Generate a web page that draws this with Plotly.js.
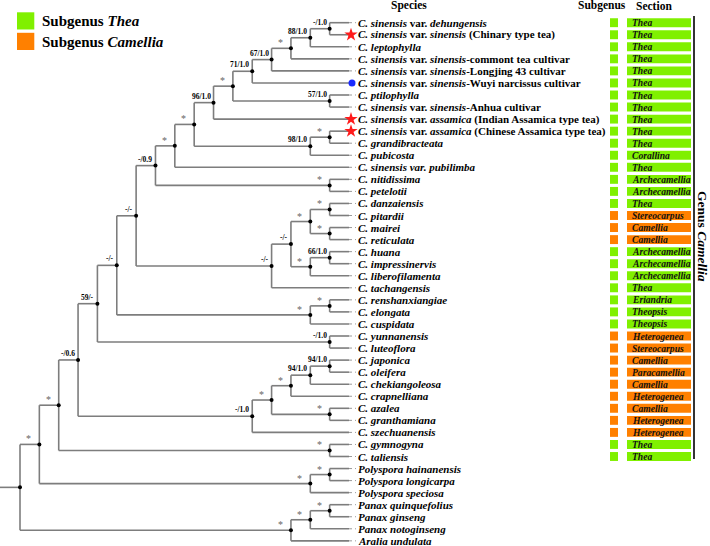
<!DOCTYPE html>
<html><head><meta charset="utf-8">
<script src="https://cdn.plot.ly/plotly-3.0.1.min.js"></script>
<style>html,body{margin:0;padding:0;background:#fff}#chart{width:710px;height:546px}</style>
</head><body><div id="chart"></div>
<script>
// ---------- DATA ----------
const leafNames = [
 '<i>C. sinensis</i> var. <i>dehungensis</i>',
 '<i>C. sinensis</i> var. <i>sinensis</i> (Chinary type tea)',
 '<i>C. leptophylla</i>',
 '<i>C. sinensis</i> var. <i>sinensis</i>-commont tea cultivar',
 '<i>C. sinensis</i> var. <i>sinensis</i>-Longjing 43 cultivar',
 '<i>C. sinensis</i> var. <i>sinensis</i>-Wuyi narcissus cultivar',
 '<i>C. ptilophylla</i>',
 '<i>C. sinensis</i> var. <i>sinensis</i>-Anhua cultivar',
 '<i>C. sinensis</i> var. <i>assamica</i> (Indian Assamica type tea)',
 '<i>C. sinensis</i> var. <i>assamica</i> (Chinese Assamica type tea)',
 '<i>C. grandibracteata</i>',
 '<i>C. pubicosta</i>',
 '<i>C. sinensis var. pubilimba</i>',
 '<i>C. nitidissima</i>',
 '<i>C. petelotii</i>',
 '<i>C. danzaiensis</i>',
 '<i>C. pitardii</i>',
 '<i>C. mairei</i>',
 '<i>C. reticulata</i>',
 '<i>C. huana</i>',
 '<i>C. impressinervis</i>',
 '<i>C. liberofilamenta</i>',
 '<i>C. tachangensis</i>',
 '<i>C. renshanxiangiae</i>',
 '<i>C. elongata</i>',
 '<i>C. cuspidata</i>',
 '<i>C. yunnanensis</i>',
 '<i>C. luteoflora</i>',
 '<i>C. japonica</i>',
 '<i>C. oleifera</i>',
 '<i>C. chekiangoleosa</i>',
 '<i>C. crapnelliana</i>',
 '<i>C. azalea</i>',
 '<i>C. granthamiana</i>',
 '<i>C. szechuanensis</i>',
 '<i>C. gymnogyna</i>',
 '<i>C. taliensis</i>',
 '<i>Polyspora hainanensis</i>',
 '<i>Polyspora longicarpa</i>',
 '<i>Polyspora speciosa</i>',
 '<i>Panax quinquefolius</i>',
 '<i>Panax ginseng</i>',
 '<i>Panax notoginseng</i>',
 '<i>Aralia undulata</i>'
];
const starLeaves = [1, 8, 9];
const dotLeaves = [5];
const subgenus = ['T','T','T','T','T','T','T','T','T','T','T','T','T','T','T','T',
  'C','C','C','T','T','T','T','T','T','T','C','C','C','C','C','C','C','C','C','T','T'];
const sections = ['Thea','Thea','Thea','Thea','Thea','Thea','Thea','Thea','Thea','Thea','Thea',
  'Corallina','Thea','Archecamellia','Archecamellia','Thea','Stereocarpus','Camellia','Camellia',
  'Archecamellia','Archecamellia','Archecamellia','Thea','Eriandria','Theopsis','Theopsis',
  'Heterogenea','Stereocarpus','Camellia','Paracamellia','Camellia','Heterogenea','Camellia',
  'Heterogenea','Heterogenea','Thea','Thea'];
// internal nodes: children (L# = leaf, N# = internal node) and support value
const nodeA = ['L0','N0','N1','N2','N3','L6','N4','N6','L9','N8','N7','N10','L13','N11','L15','L17','N14','L19','N17','N16','N19','N13','L23','N22','N21','L26','N24','L28','N27','N28','L32','N29','N31','N26','L35','N33','L37','N36','N35','L40','N39','N40','N38'];
const nodeB = ['L1','L2','L3','L4','L5','L7','N5','L8','L10','L11','N9','L12','L14','N12','L16','L18','N15','L20','L21','N18','L22','N20','L24','L25','N23','L27','N25','L29','L30','L31','L33','N30','L34','N32','L36','N34','L38','L39','N37','L41','L42','L43','N41'];
const nodeSupport = ['-/1.0','88/1.0','*','67/1.0','71/1.0','57/1.0','*','96/1.0','*','98/1.0','*','*','*','-/0.9','*','*','*','66/1.0','*','-/-','-/-','-/-','*','*','-/-','-/1.0','59/-','94/1.0','94/1.0','*','*','*','-/1.0','-/0.6','*','*','*','*','*','*','*','*',''];

// ---------- LAYOUT CONSTANTS ----------
const W = 710, H = 546;
const px0 = 20, dxPx = 19.353;        // level 0 pixel, pixels per level
const py0 = 22.7, dyPx = 12.05;       // first leaf pixel, pixels per leaf
const GREEN = '#80f000', ORANGE = '#ff8000';
const FONT = 'Liberation Serif, Times New Roman, serif';

// ---------- TREE GEOMETRY ----------
const nN = nodeA.length;
const hCache = {};
function height(ref){
  if (ref[0]==='L') return 0;
  if (hCache[ref]!==undefined) return hCache[ref];
  const i = +ref.slice(1);
  return hCache[ref] = 1 + Math.max(height(nodeA[i]), height(nodeB[i]));
}
const rootRef = 'N'+(nN-1);
const Htree = height(rootRef);
function X(ref){ return Htree - height(ref); }
const yCache = {};
function Y(ref){
  if (ref[0]==='L') return +ref.slice(1);
  if (yCache[ref]!==undefined) return yCache[ref];
  const i = +ref.slice(1);
  return yCache[ref] = (Y(nodeA[i]) + Y(nodeB[i]))/2;
}

const lx = [], ly = [];
for (let i=0;i<nN;i++){
  const r = 'N'+i, x = X(r);
  const a = nodeA[i], b = nodeB[i];
  lx.push(x, x, null); ly.push(Y(a), Y(b), null);
  lx.push(x, X(a), null); ly.push(Y(a), Y(a), null);
  lx.push(x, X(b), null); ly.push(Y(b), Y(b), null);
}
// root stub
const xMin = -px0/dxPx;
lx.push(xMin, 0, null); ly.push(Y(rootRef), Y(rootRef), null);

const nodeX = [], nodeY = [];
for (let i=0;i<nN;i++){ nodeX.push(X('N'+i)); nodeY.push(Y('N'+i)); }

// dotted tip extensions
const tx = [], ty = [];
const tipExt = 7/dxPx;
leafNames.forEach((n,i)=>{
  if (starLeaves.includes(i) || dotLeaves.includes(i)) return;
  tx.push(Htree, Htree+tipExt, null); ty.push(i, i, null);
});

const traces = [
  {x: lx, y: ly, mode:'lines', line:{color:'#7d7d7d', width:1.6}, hoverinfo:'skip', showlegend:false},
  {x: tx, y: ty, mode:'lines', line:{color:'#9a9a9a', width:1, dash:'dot'}, hoverinfo:'skip', showlegend:false},
  {x: nodeX, y: nodeY, mode:'markers', marker:{color:'#000', size:4}, hoverinfo:'skip', showlegend:false},
  {x: starLeaves.map(()=>Htree+2/dxPx), y: starLeaves, mode:'markers',
   marker:{symbol:'star', color:'#ff1a1a', size:10, line:{width:0}}, hoverinfo:'skip', showlegend:false},
  {x: dotLeaves.map(()=>Htree+3/dxPx), y: dotLeaves, mode:'markers',
   marker:{symbol:'circle', color:'#1a2aff', size:7}, hoverinfo:'skip', showlegend:false}
];

// ---------- ANNOTATIONS ----------
const ann = [];
leafNames.forEach((n,i)=>{
  ann.push({x: Htree, y: i, xref:'x', yref:'y', text:'<b>'+n+'</b>', showarrow:false,
    xanchor:'left', yanchor:'middle', xshift:7, yshift:0,
    font:{family:FONT, size:11, color:'#000'}});
});
nodeSupport.forEach((s,i)=>{
  if (!s) return;
  const star = s==='*';
  ann.push({x: nodeX[i], y: nodeY[i], xref:'x', yref:'y', text: star? s : '<b>'+s+'</b>',
    showarrow:false, xanchor:'right', yanchor:'bottom',
    xshift: star? -6 : -1, yshift: star? -2 : 0,
    font:{family:FONT, size: star? 10 : 7.5, color: star? '#666' : '#000'}});
});
// headers
const hdr = [['Species',409],['Subgenus',602],['Section',654]];
hdr.forEach(h=>ann.push({x:h[1]/W, y:1-6/H, xref:'paper', yref:'paper', text:'<b>'+h[0]+'</b>',
  showarrow:false, xanchor:'center', yanchor:'middle', font:{family:FONT, size:11.5, color:'#000'}}));

// section labels and boxes
const shapes = [];
const bh = 0.37;
sections.forEach((s,i)=>{
  const col = subgenus[i]==='T' ? GREEN : ORANGE;
  shapes.push({type:'rect', xref:'paper', yref:'y', x0:610/W, x1:618/W, y0:i-bh, y1:i+bh,
    fillcolor:col, line:{width:0}, layer:'below'});
  shapes.push({type:'rect', xref:'paper', yref:'y', x0:627/W, x1:691/W, y0:i-bh, y1:i+bh,
    fillcolor:col, line:{width:0}, layer:'below'});
  ann.push({x:630/W, y:i, xref:'paper', yref:'y', text:'<b><i>'+s+'</i></b>', showarrow:false,
    xanchor:'left', yanchor:'middle', font:{family:FONT, size:9.6, color:'#111'}});
});
// genus bar
shapes.push({type:'line', xref:'paper', yref:'paper', x0:694/W, x1:694/W, y0:1-16/H, y1:1-459/H,
  line:{color:'#000', width:1.6}});
ann.push({x:703/W, y:1-236/H, xref:'paper', yref:'paper', text:'<b>Genus <i>Camellia</i></b>',
  textangle:90, showarrow:false, xanchor:'center', yanchor:'middle',
  font:{family:FONT, size:13.5, color:'#000'}});

// legend
const legendItems = [['Subgenus <i>Thea</i>', GREEN], ['Subgenus <i>Camellia</i>', ORANGE]];
legendItems.forEach((it,k)=>{
  const top = 12.3 + k*20.5;
  shapes.push({type:'rect', xref:'paper', yref:'paper', x0:17/W, x1:34.3/W,
    y0:1-top/H, y1:1-(top+17.2)/H, fillcolor:it[1], line:{width:0}});
  ann.push({x:40/W, y:1-(top+9)/H, xref:'paper', yref:'paper', text:'<b>'+it[0]+'</b>',
    showarrow:false, xanchor:'left', yanchor:'middle', font:{family:FONT, size:15, color:'#000'}});
});

const layout = {
  width:W, height:H, margin:{l:0,r:0,t:0,b:0},
  paper_bgcolor:'#fff', plot_bgcolor:'#fff', showlegend:false,
  xaxis:{range:[xMin, (W-px0)/dxPx], visible:false, fixedrange:true},
  yaxis:{range:[(H-py0)/dyPx, -py0/dyPx], visible:false, fixedrange:true},
  shapes: shapes, annotations: ann
};
Plotly.newPlot('chart', traces, layout, {staticPlot:true});
</script></body></html>
